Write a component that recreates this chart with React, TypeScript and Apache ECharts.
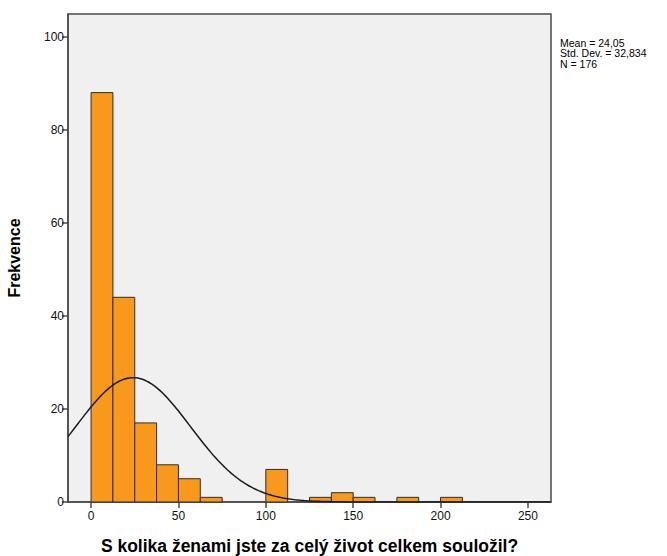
import React, { useEffect, useRef } from "react";
import * as echarts from "echarts";

// Histogram bins (lower edge, upper edge) and frequencies
const binStarts = [0, 12.5, 25, 37.5, 50, 62.5, 100, 125, 137.5, 150, 175, 200];
const binWidth = 12.5;
const frequencies = [88, 44, 17, 8, 5, 1, 7, 1, 2, 1, 1, 1];

const xTicks = [0, 50, 100, 150, 200, 250];
const yTicks = [0, 20, 40, 60, 80, 100];

const statMean = 24.05;
const statSD = 32.834;
const statN = 176;
const statLines = ["Mean = 24,05", "Std. Dev. = 32,834", "N = 176"];

const xMin = -13.2;
const xMax = 263.2;
const yMax = 104.9;

const FONT = "'Liberation Sans', Arial, sans-serif";

export default function App() {
  const ref = useRef<HTMLDivElement>(null);
  useEffect(() => {
    document.body.style.margin = "0";
    const chart = echarts.init(ref.current!, null, { renderer: "svg" });

    const barData = binStarts.map((s, i) => [s, s + binWidth, frequencies[i]]);

    // fitted normal curve from reported mean / SD / N
    const curve: number[][] = [];
    const scale = (statN * binWidth) / (statSD * Math.sqrt(2 * Math.PI));
    for (let x = xMin; x <= xMax; x += 1) {
      const z = (x - statMean) / statSD;
      curve.push([x, scale * Math.exp(-0.5 * z * z)]);
    }

    chart.setOption({
      animation: false,
      backgroundColor: "#ffffff",
      grid: {
        left: 68,
        right: 116,
        top: 14,
        bottom: 54,
        outerBoundsMode: "none",
        containLabel: false,
        show: true,
        backgroundColor: "#F0F0F0",
        borderColor: "#4a4a4a",
        borderWidth: 1.5,
      },
      xAxis: {
        type: "value",
        min: xMin,
        max: xMax,
        name: "S kolika ženami jste za celý život celkem souložil?",
        nameLocation: "middle",
        nameGap: 35,
        nameTextStyle: { fontFamily: FONT, fontWeight: "bold", fontSize: 17.5, color: "#000" },
        splitLine: { show: false },
        axisLine: { show: true, onZero: false, lineStyle: { color: "#4a4a4a", width: 1.5 } },
        axisTick: { show: true, length: 6, customValues: xTicks, lineStyle: { color: "#4a4a4a", width: 1.5 } },
        axisLabel: { customValues: xTicks, fontFamily: FONT, fontSize: 12, color: "#111", margin: 8 },
      },
      yAxis: {
        type: "value",
        min: 0,
        max: yMax,
        name: "Frekvence",
        nameLocation: "middle",
        nameGap: 46,
        nameRotate: 90,
        nameTextStyle: { fontFamily: FONT, fontWeight: "bold", fontSize: 16, color: "#000" },
        splitLine: { show: false },
        axisLine: { show: true, onZero: false, lineStyle: { color: "#4a4a4a", width: 1.5 } },
        axisTick: { show: true, length: 6, customValues: yTicks, lineStyle: { color: "#4a4a4a", width: 1.5 } },
        axisLabel: { customValues: yTicks, fontFamily: FONT, fontSize: 12, color: "#111", margin: 4 },
      },
      series: [
        {
          type: "custom",
          data: barData,
          encode: { x: [0, 1], y: 2 },
          renderItem: (params: any, api: any) => {
            const p0 = api.coord([api.value(0), 0]);
            const p1 = api.coord([api.value(1), api.value(2)]);
            return {
              type: "rect",
              shape: { x: p0[0], y: p1[1], width: p1[0] - p0[0], height: p0[1] - p1[1] },
              style: { fill: "#F8991D", stroke: "#2e2e2e", lineWidth: 1 },
            };
          },
          z: 2,
        },
        {
          type: "line",
          data: curve,
          showSymbol: false,
          symbol: "none",
          smooth: false,
          lineStyle: { color: "#1a1a1a", width: 1.5 },
          z: 3,
        },
      ],
      graphic: [
        {
          type: "text",
          left: 560,
          top: 37,
          style: {
            text: statLines.join("\n"),
            fontFamily: FONT,
            fontSize: 10.5,
            lineHeight: 10.5,
            fill: "#000",
          },
        },
      ],
    });
    return () => chart.dispose();
  }, []);
  return <div ref={ref} style={{ position: "absolute", left: 0, top: 0, width: 667, height: 556 }} />;
}
